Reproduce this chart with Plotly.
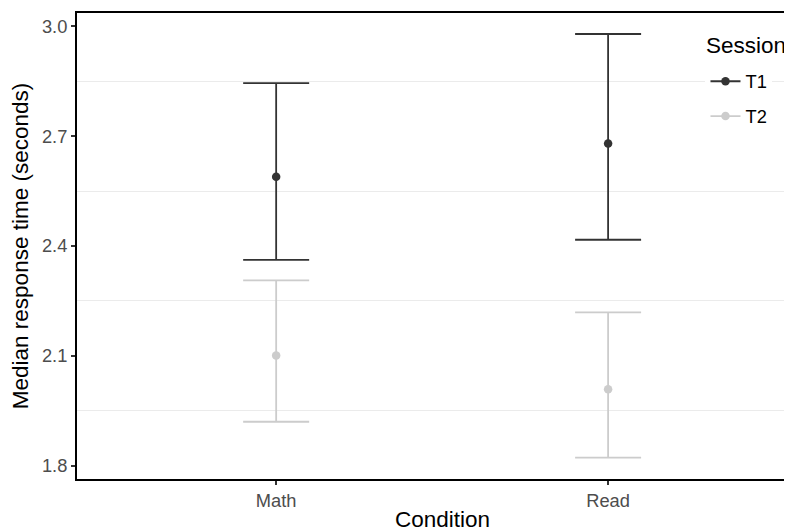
import plotly.graph_objects as go

conditions = ["Math", "Read"]
sessions = ["T1", "T2"]
median_t1 = [2.589, 2.680]
upper_t1 = [2.845, 2.979]
lower_t1 = [2.362, 2.417]
median_t2 = [2.101, 2.009]
upper_t2 = [2.306, 2.219]
lower_t2 = [1.920, 1.822]
y_ticks = [1.8, 2.1, 2.4, 2.7, 3.0]
y_minor = [1.95, 2.25, 2.55, 2.85]

colors = {"T1": "#333333", "T2": "#cccccc"}
FONT = "Liberation Sans, Arial, sans-serif"
TICK_SIZE = 18.3
TITLE_SIZE = 22.5

fig = go.Figure()
data = {
    "T1": (median_t1, upper_t1, lower_t1),
    "T2": (median_t2, upper_t2, lower_t2),
}
for s in sessions:
    med, up, lo = data[s]
    fig.add_trace(go.Scatter(
        x=conditions, y=med, mode="markers",
        marker=dict(color=colors[s], size=8.5),
        error_y=dict(type="data", symmetric=False,
                     array=[u - m for u, m in zip(up, med)],
                     arrayminus=[m - l for m, l in zip(med, lo)],
                     color=colors[s], thickness=1.8, width=33),
        showlegend=False, hoverinfo="skip",
    ))
for s in sessions:
    fig.add_trace(go.Scatter(
        x=[None], y=[None], mode="lines+markers", name=s,
        legendgroup=s,
        line=dict(color=colors[s], width=1.8),
        marker=dict(color=colors[s], size=8.5),
    ))

# page has an 8px body margin; the figure is sized/margined to compensate
fig.update_layout(
    width=784, height=523,
    margin=dict(l=69, r=0, t=5, b=52),
    plot_bgcolor="white", paper_bgcolor="white",
    font=dict(family=FONT, size=TICK_SIZE, color="#000000"),
    legend=dict(
        font=dict(size=TICK_SIZE, color="#000000"),
        x=0.879, xanchor="left", y=0.893, yanchor="top",
        bgcolor="white", tracegroupgap=8, traceorder="grouped",
        itemwidth=30,
    ),
    xaxis=dict(
        range=[-0.6, 1.554], showgrid=False, zeroline=False,
        showline=True, linecolor="#000000", linewidth=2, mirror=True,
        ticks="outside", ticklen=4, tickwidth=1.5, tickcolor="#333333",
        tickfont=dict(size=TICK_SIZE, color="#4d4d4d"),
    ),
    yaxis=dict(
        range=[1.7637, 3.0363], showgrid=False, zeroline=False,
        showline=True, linecolor="#000000", linewidth=2,
        tickvals=y_ticks, ticktext=[f"{v:.1f}" for v in y_ticks],
        ticks="outside", ticklen=4, tickwidth=1.5, tickcolor="#333333",
        tickfont=dict(size=TICK_SIZE, color="#4d4d4d"),
        minor=dict(tickvals=y_minor, showgrid=True, gridcolor="#ebebeb",
                   gridwidth=1, ticks=""),
        title=dict(text="Median response time (seconds)",
                   font=dict(size=TITLE_SIZE, color="#000000"), standoff=8),
    ),
    annotations=[
        dict(text="Condition", x=0.5, xref="x", y=0, yref="paper",
             yanchor="top", yshift=-26, showarrow=False,
             font=dict(size=TITLE_SIZE, color="#000000")),
        dict(text="Session", x=0.877, xref="paper", xanchor="left",
             y=1, yref="paper", yanchor="middle", yshift=-32,
             showarrow=False,
             font=dict(size=TITLE_SIZE, color="#000000")),
    ],
)

fig.write_html("out.html")
